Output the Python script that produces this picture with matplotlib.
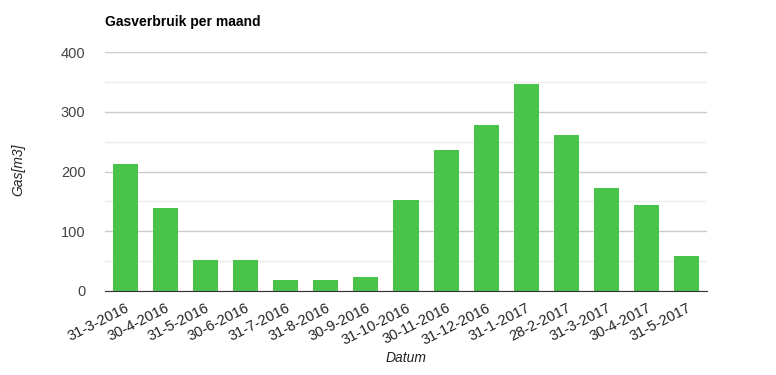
import matplotlib.pyplot as plt
import numpy as np

plt.rcParams["font.family"] = ["Liberation Sans", "DejaVu Sans"]

# data
dates = [
    "31-3-2016", "30-4-2016", "31-5-2016", "30-6-2016", "31-7-2016",
    "31-8-2016", "30-9-2016", "31-10-2016", "30-11-2016", "31-12-2016",
    "31-1-2017", "28-2-2017", "31-3-2017", "30-4-2017", "31-5-2017",
]
gas = [213, 139, 52, 52, 18, 18, 23, 152, 236, 278, 346, 261, 172, 144, 59]
y_ticks = [0, 100, 200, 300, 400]

fig = plt.figure(figsize=(7.76, 3.75), dpi=100)
ax = fig.add_axes([105 / 776, 1 - 291 / 375, 602 / 776, 239 / 375])

x = np.arange(len(dates))
ax.bar(x, gas, width=0.625, color="#49c34a", zorder=3)

ax.set_xlim(-0.5, len(dates) - 0.5)
ax.set_ylim(0, 400)

# grid lines, major and minor
ax.set_yticks(y_ticks)
ax.set_yticks([50, 150, 250, 350], minor=True)
ax.grid(axis="y", which="major", color="#cccccc", linewidth=1, zorder=0)
ax.grid(axis="y", which="minor", color="#ebebeb", linewidth=1, zorder=0)
ax.tick_params(axis="y", which="both", length=0, pad=14, labelsize=10.5, labelcolor="#444444")

ax.set_xticks(x)
ax.set_xticklabels(dates, rotation=27, ha="right", rotation_mode="anchor",
                   fontsize=10.5, color="#222222")
ax.tick_params(axis="x", length=0, pad=7)

for side in ["top", "right", "left"]:
    ax.spines[side].set_visible(False)
ax.spines["bottom"].set_color("#333333")
ax.spines["bottom"].set_zorder(4)

fig.text(105 / 776, 1 - 22 / 375, "Gasverbruik per maand", fontsize=10,
         fontweight="bold", va="center", ha="left", color="#000000")
fig.text(18 / 776, 1 - 170 / 375, "Gas[m3]", rotation=90, style="italic",
         fontsize=10, va="center", ha="center", color="#222222")
fig.text(406 / 776, 1 - 358 / 375, "Datum", style="italic",
         fontsize=10, va="center", ha="center", color="#222222")

fig.savefig("out.png", dpi=100)
